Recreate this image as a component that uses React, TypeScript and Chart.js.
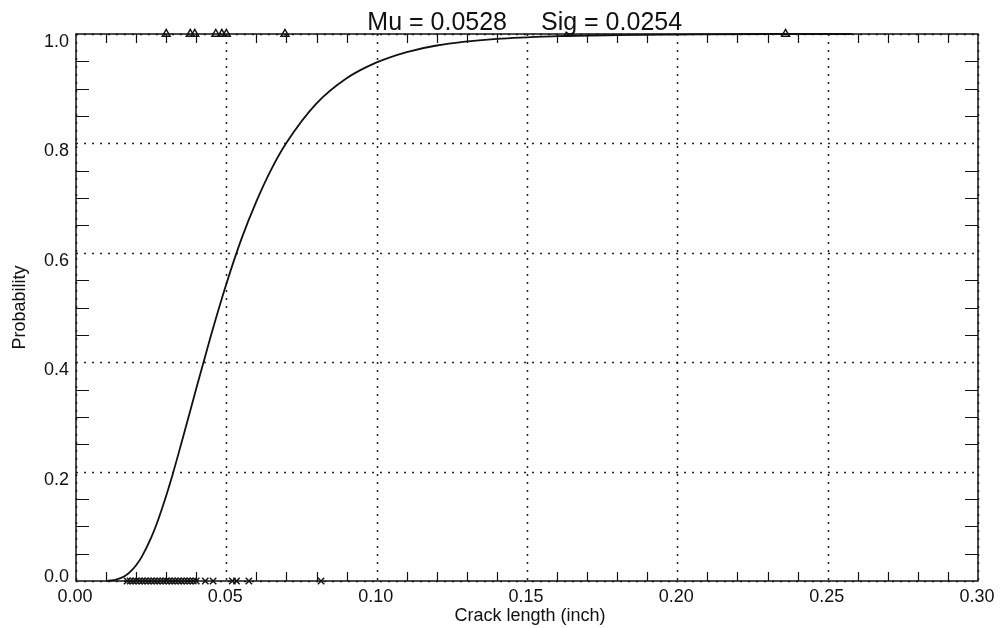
import React, { useEffect, useRef } from "react";
import { Chart, registerables } from "chart.js";

Chart.register(...registerables);

// Fitted cumulative probability curve (crack length in inches vs probability)
const curveX = [0.010, 0.011, 0.012, 0.013, 0.015, 0.0165, 0.018, 0.020, 0.022, 0.025, 0.027, 0.030, 0.032, 0.035, 0.037, 0.040, 0.045, 0.050, 0.055, 0.060, 0.065, 0.070, 0.080, 0.090, 0.100, 0.110, 0.120, 0.140, 0.160, 0.180, 0.200, 0.230, 0.258];
const curveY = [0.000, 0.0007, 0.0013, 0.0022, 0.0057, 0.0101, 0.0166, 0.0288, 0.0455, 0.0793, 0.107, 0.156, 0.192, 0.251, 0.291, 0.352, 0.451, 0.543, 0.625, 0.694, 0.753, 0.801, 0.873, 0.919, 0.948, 0.967, 0.979, 0.991, 0.996, 0.998, 0.999, 1.000, 1.000];

// Detected cracks (plotted at probability 1)
const hitX = [0.030, 0.038, 0.0395, 0.0465, 0.0485, 0.050, 0.0695, 0.236];

// Missed cracks (plotted at probability 0)
const missX = [0.017, 0.018, 0.019, 0.020, 0.021, 0.022, 0.023, 0.024, 0.025, 0.026, 0.027, 0.028, 0.029, 0.030, 0.031, 0.032, 0.033, 0.034, 0.035, 0.036, 0.037, 0.038, 0.039, 0.040, 0.043, 0.0456, 0.052, 0.0534, 0.0575, 0.0815];

const xTicks = [0, 0.05, 0.10, 0.15, 0.20, 0.25, 0.30];
const xTickLabels = ["0.00", "0.05", "0.10", "0.15", "0.20", "0.25", "0.30"];
const yTicks = [0, 0.2, 0.4, 0.6, 0.8, 1.0];
const yTickLabels = ["0.0", "0.2", "0.4", "0.6", "0.8", "1.0"];
const xMinorStep = 0.01;
const yMinorStep = 0.05;

const titleLeft = "Mu = 0.0528";
const titleRight = "Sig = 0.0254";
const xTitle = "Crack length (inch)";
const yTitle = "Probability";

const FONT = '"Liberation Sans", Arial, Helvetica, sans-serif';
const INK = "#111";

const framePlugin = {
  id: "idlFrame",
  beforeDatasetsDraw(chart: any) {
    const { ctx, chartArea: a, scales } = chart;
    const xs = scales.x;
    const ys = scales.y;
    ctx.save();
    ctx.strokeStyle = "#222";
    ctx.lineWidth = 1.5;
    ctx.setLineDash([2, 6]);
    xTicks.forEach((v) => {
      const px = Math.round(xs.getPixelForValue(v)) + 0.5;
      ctx.beginPath();
      ctx.moveTo(px, a.top);
      ctx.lineTo(px, a.bottom);
      ctx.stroke();
    });
    yTicks.forEach((v) => {
      const py = Math.round(ys.getPixelForValue(v)) + 0.5;
      ctx.beginPath();
      ctx.moveTo(a.left, py);
      ctx.lineTo(a.right, py);
      ctx.stroke();
    });
    ctx.restore();
  },
  afterDatasetsDraw(chart: any) {
    const { ctx, chartArea: a, scales } = chart;
    const xs = scales.x;
    const ys = scales.y;
    ctx.save();
    ctx.setLineDash([]);
    ctx.strokeStyle = INK;
    ctx.lineWidth = 1.5;
    ctx.strokeRect(a.left, a.top, a.right - a.left, a.bottom - a.top);

    // minor ticks pointing inward
    ctx.lineWidth = 1.2;
    const isMajor = (v: number, list: number[]) => list.some((t) => Math.abs(t - v) < 1e-6);
    for (let i = 1; i * xMinorStep < 0.3 - 1e-6; i++) {
      const v = i * xMinorStep;
      if (isMajor(v, xTicks)) continue;
      const px = Math.round(xs.getPixelForValue(v)) + 0.5;
      ctx.beginPath();
      ctx.moveTo(px, a.bottom);
      ctx.lineTo(px, a.bottom - 9);
      ctx.moveTo(px, a.top);
      ctx.lineTo(px, a.top + 9);
      ctx.stroke();
    }
    for (let i = 1; i * yMinorStep < 1 - 1e-6; i++) {
      const v = i * yMinorStep;
      if (isMajor(v, yTicks)) continue;
      const py = Math.round(ys.getPixelForValue(v)) + 0.5;
      ctx.beginPath();
      ctx.moveTo(a.left, py);
      ctx.lineTo(a.left + 13, py);
      ctx.moveTo(a.right, py);
      ctx.lineTo(a.right - 13, py);
      ctx.stroke();
    }

    // tick labels
    ctx.fillStyle = INK;
    ctx.font = `18px ${FONT}`;
    ctx.textBaseline = "alphabetic";
    ctx.textAlign = "center";
    xTicks.forEach((v, i) => {
      ctx.fillText(xTickLabels[i], xs.getPixelForValue(v) - 1, a.bottom + 21);
    });
    ctx.textAlign = "right";
    yTicks.forEach((v, i) => {
      const py = ys.getPixelForValue(v);
      ctx.fillText(yTickLabels[i], a.left - 7, v === 0 ? py + 1 : py + 13);
    });

    // axis titles
    ctx.textAlign = "center";
    ctx.fillText(xTitle, (a.left + a.right) / 2 + 3, a.bottom + 40);
    ctx.save();
    ctx.translate(25, (a.top + a.bottom) / 2);
    ctx.rotate(-Math.PI / 2);
    ctx.fillText(yTitle, 0, 0);
    ctx.restore();

    // title
    ctx.font = `25px ${FONT}`;
    const cx = (a.left + a.right) / 2 - 2;
    ctx.textAlign = "right";
    ctx.fillText(titleLeft, cx - 18, 30);
    ctx.textAlign = "left";
    ctx.fillText(titleRight, cx + 16, 30);
    ctx.restore();
  },
};

export default function App() {
  const canvasRef = useRef<HTMLCanvasElement | null>(null);

  useEffect(() => {
    if (!canvasRef.current) return;
    const chart = new Chart(canvasRef.current, {
      type: "line",
      data: {
        datasets: [
          {
            label: "fit",
            data: curveX.map((x, i) => ({ x, y: curveY[i] })),
            borderColor: INK,
            borderWidth: 1.8,
            pointRadius: 0,
            fill: false,
            cubicInterpolationMode: "monotone",
            clip: false,
          } as any,
          {
            label: "hit",
            type: "scatter",
            data: hitX.map((x) => ({ x, y: 1 })),
            pointStyle: "triangle",
            pointRadius: 4.6,
            borderColor: INK,
            borderWidth: 1.4,
            backgroundColor: "rgba(0,0,0,0)",
            showLine: false,
            clip: false,
          } as any,
          {
            label: "miss",
            type: "scatter",
            data: missX.map((x) => ({ x, y: 0 })),
            pointStyle: "crossRot",
            pointRadius: 4.5,
            borderColor: INK,
            borderWidth: 1.4,
            showLine: false,
            clip: false,
          } as any,
        ],
      },
      options: {
        animation: false,
        responsive: false,
        events: [],
        layout: { padding: { left: 76, right: 25, top: 34, bottom: 47 } },
        scales: {
          x: { type: "linear", min: 0, max: 0.3, display: false },
          y: { type: "linear", min: 0, max: 1, display: false },
        },
        plugins: {
          legend: { display: false },
          tooltip: { enabled: false },
          title: { display: false },
        },
      },
      plugins: [framePlugin],
    });
    return () => chart.destroy();
  }, []);

  return (
    <div style={{ position: "fixed", left: 0, top: 0, width: 1003, height: 628, background: "#fff" }}>
      <canvas ref={canvasRef} width={1003} height={628} style={{ display: "block" }} />
    </div>
  );
}
